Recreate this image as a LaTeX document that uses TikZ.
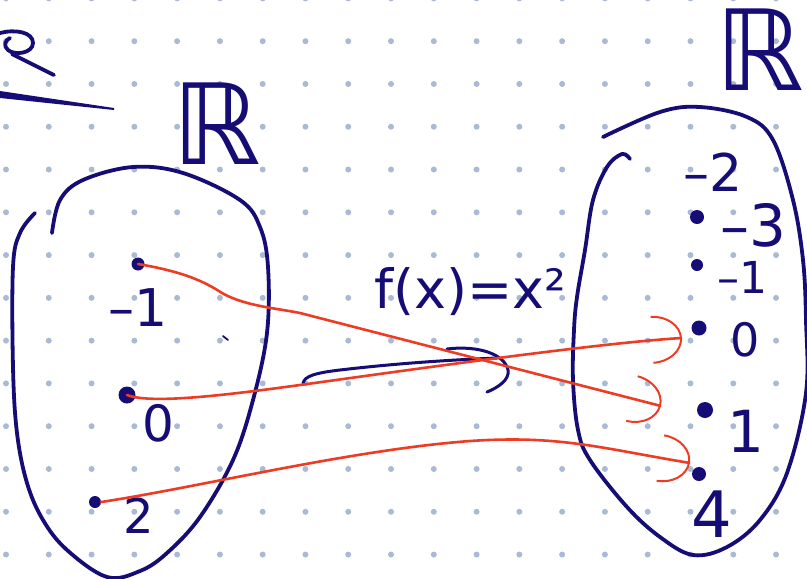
\documentclass[tikz,border=0pt]{standalone}
\usepackage{fontspec}
\setmainfont{DejaVu Sans}
\usetikzlibrary{arrows.meta}
\definecolor{ink}{RGB}{22,12,118}
\definecolor{pen}{RGB}{238,60,36}
\definecolor{gridgray}{RGB}{170,186,210}

\begin{document}
\begin{tikzpicture}[x=1pt,y=-1pt,
  stroke/.style={draw=ink,line width=3.8pt,line cap=round,line join=round},
  elem/.style={circle,fill=ink,inner sep=0pt,minimum size=#1},
  elem/.default=13pt,
  num/.style={text=ink,inner sep=0pt,font=\fontsize{#1}{#1}\selectfont},
  num/.default=46,
  mapsto/.style={draw=pen,line width=2.6pt,line cap=round,-{Arc Barb[length=30pt,width=48pt,line width=2pt]}}
]
\useasboundingbox (0,0) rectangle (807,579);
\foreach \i in {0,...,18}
  \foreach \j in {0,...,13}
    \fill[gridgray] ({6+42.78*\i},{-1.6+42.78*\j}) circle (3);

\draw[stroke] (0,33) .. controls (15,29) and (33,32) .. (33,43) .. controls (33,53) and (15,56) .. (8,50) .. controls (3,46) and (5,40) .. (10,38);
\draw[stroke] (12,54) -- (54,75);
\fill[ink] (0,91) -- (114,108) -- (114,110) -- (0,98) -- cycle;

\draw[stroke] plot[smooth,tension=0.6] coordinates {(52,233) (60,200) (83,180) (133,167) (183,173) (240,200) (260,227) (268,267) (267,333) (253,400) (233,460) (200,517) (167,553) (140,571) (107,577) (67,550) (43,520) (27,483) (17,433) (13,367) (13,267) (20,233) (35,213)};
\draw[stroke] plot[smooth,tension=0.6] coordinates {(603,137) (660,112) (700,107) (747,117) (773,140) (793,200) (803,260) (806,320) (806,393) (787,473) (760,520) (727,547) (693,555) (660,537) (627,507) (590,460) (578,430) (573,380) (574,330) (577,297) (585,250) (593,200) (607,167) (622,154) (630,159)};

\node[num=112] (domset) at (217,124) {ℝ};
\node[num=112] (codset) at (760,50) {ℝ};

\node[elem] (lm1) at (138,264) {};
\node[elem=17pt] (lz) at (127,395) {};
\node[elem=12pt] (lt) at (95,502) {};
\node[num=52] (lm1lab) at (138,308) {–1};
\node[num=50] (lzlab) at (158,423) {0};
\node[num=48] (ltlab) at (139,516) {2};
\draw[stroke,line width=1.8pt] (223,336) -- (228,340);

\node[elem=14pt] (rm3) at (697,217) {};
\node[elem=12pt] (rm1) at (697,265) {};
\node[elem=15pt] (rz) at (699,328) {};
\node[elem=16pt] (ro) at (705,410) {};
\node[elem=14pt] (rf) at (699,474) {};
\node[num=52] (rm2lab) at (713,172) {–2};
\node[num=58] (rm3lab) at (753,225) {–3};
\node[num=44] (rm1lab) at (742,277) {–1};
\node[num=46] (rzlab) at (745,340) {0};
\node[num=58] (rolab) at (746,431) {1};
\node[num=64] (rflab) at (712,514) {4};

\node[num=54] (rule) at (470,292) {f(x)=x²};
\draw[stroke,line width=3pt] (303,383) .. controls (305,376) and (315,373) .. (340,370) .. controls (400,363) and (450,360) .. (497,358);
\draw[stroke,line width=3pt] (447,349) .. controls (480,345) and (505,355) .. (508,370) .. controls (510,380) and (497,388) .. (487,392);

\coordinate (ta) at (661,406);
\coordinate (tb) at (682,338);
\coordinate (tc) at (690,463);
\draw[mapsto] (lm1.center) .. controls (185,272) and (205,282) .. (222,293) .. controls (245,306) and (275,308) .. (300,313) -- (ta);
\draw[mapsto] (lz.center) .. controls (150,404) and (220,396) .. (300,385) .. controls (430,367) and (600,343) .. (tb);
\draw[mapsto] (lt.east) .. controls (200,487) and (350,450) .. (470,441) .. controls (560,435) and (600,448) .. (tc);
\end{tikzpicture}
\end{document}
